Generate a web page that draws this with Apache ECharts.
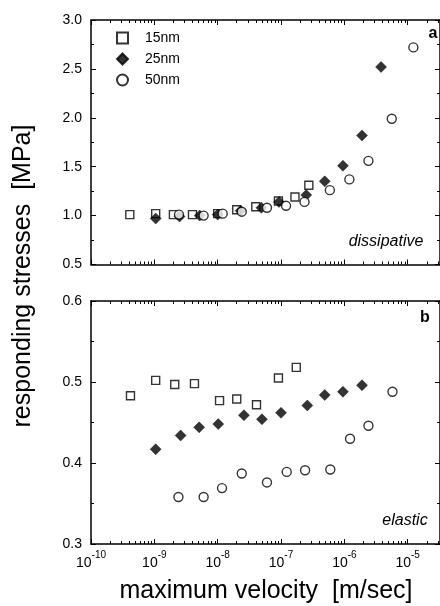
<!DOCTYPE html>
<html><head><meta charset="utf-8">
<script src="https://cdn.jsdelivr.net/npm/echarts@6/dist/echarts.min.js"></script>
<style>html,body{margin:0;padding:0;background:#fff}#c{width:440px;height:606px}</style>
</head><body><div id="c"></div>
<script>
const seriesNames = ['15nm', '25nm', '50nm'];
// panel a (dissipative)
const a15x = [4.1e-10, 1.05e-9, 2.0e-9, 4.0e-9, 1.0e-8, 2.0e-8, 4.0e-8, 9.1e-8, 1.66e-7, 2.75e-7];
const a15y = [1.01, 1.02, 1.01, 1.01, 1.02, 1.06, 1.09, 1.15, 1.19, 1.31];
const a25x = [1.05e-9, 2.5e-9, 5.2e-9, 1.0e-8, 2.3e-8, 4.9e-8, 9.3e-8, 2.5e-7, 4.9e-7, 9.5e-7, 1.9e-6, 3.8e-6];
const a25y = [0.97, 0.99, 1.0, 1.01, 1.05, 1.08, 1.14, 1.21, 1.35, 1.51, 1.82, 2.52];
const a50x = [2.45e-9, 6.0e-9, 1.2e-8, 2.4e-8, 6.0e-8, 1.2e-7, 2.35e-7, 5.9e-7, 1.2e-6, 2.4e-6, 5.6e-6, 1.23e-5];
const a50y = [1.01, 1.0, 1.02, 1.04, 1.08, 1.10, 1.14, 1.26, 1.37, 1.56, 1.99, 2.72];
// panel b (elastic)
const b15x = [4.2e-10, 1.05e-9, 2.1e-9, 4.3e-9, 1.07e-8, 2.0e-8, 4.1e-8, 9.1e-8, 1.74e-7];
const b15y = [0.483, 0.502, 0.497, 0.498, 0.477, 0.479, 0.472, 0.505, 0.518];
const b25x = [1.05e-9, 2.6e-9, 5.1e-9, 1.02e-8, 2.6e-8, 5.0e-8, 1.0e-7, 2.6e-7, 4.9e-7, 9.5e-7, 1.9e-6];
const b25y = [0.417, 0.434, 0.444, 0.448, 0.459, 0.454, 0.462, 0.471, 0.484, 0.488, 0.496];
const b50x = [2.4e-9, 6.0e-9, 1.17e-8, 2.4e-8, 6.0e-8, 1.23e-7, 2.4e-7, 6.0e-7, 1.23e-6, 2.4e-6, 5.75e-6];
const b50y = [0.358, 0.358, 0.369, 0.387, 0.376, 0.389, 0.391, 0.392, 0.430, 0.446, 0.488];
// axis ticks
const xMajorTicks = [1e-10, 1e-9, 1e-8, 1e-7, 1e-6, 1e-5];
const X_MIN = 1e-10;
const X_MAX = Math.pow(10, -4.49);
const xMinorTicks = [];
xMajorTicks.forEach(function (m) {
  for (let k = 2; k <= 9; k++) { const v = k * m; if (v < X_MAX) xMinorTicks.push(v); }
});

const FONT = '"Liberation Sans", Arial, sans-serif';
const zip = (xs, ys) => xs.map((x, i) => [x, ys[i]]);

function xAxisDef(gridIndex, position, ticks, len, showLine, showLabel) {
  return {
    type: 'log', logBase: 10, gridIndex: gridIndex, position: position,
    min: X_MIN, max: X_MAX,
    axisLine: { show: showLine, onZero: false, lineStyle: { color: '#000', width: 1.5 } },
    axisTick: { show: true, inside: true, length: len, customValues: ticks, lineStyle: { color: '#000', width: 1 } },
    axisLabel: {
      show: showLabel, customValues: xMajorTicks, margin: 6, color: '#000',
      formatter: function (v) {
        const e = Math.round(Math.log10(v));
        return '{b|10}{s|' + e + '}';
      },
      rich: {
        b: { fontSize: 14, fontFamily: FONT, color: '#000', lineHeight: 20, verticalAlign: 'bottom' },
        s: { fontSize: 10, fontFamily: FONT, color: '#000', lineHeight: 12, verticalAlign: 'top' }
      }
    },
    splitLine: { show: false }
  };
}
function yAxisDef(gridIndex, position, min, max, interval, showLabel) {
  return {
    type: 'value', gridIndex: gridIndex, position: position,
    min: min, max: max, interval: interval,
    axisLine: { show: true, onZero: false, lineStyle: { color: '#000', width: 1.5 } },
    axisTick: { show: true, inside: true, length: 5, lineStyle: { color: '#000', width: 1 } },
    minorTick: { show: true, splitNumber: 2, length: 3, lineStyle: { color: '#000', width: 1 } },
    axisLabel: { show: showLabel, margin: 9, color: '#000', fontSize: 14, fontFamily: FONT,
      formatter: function (v) { return v.toFixed(1); } },
    splitLine: { show: false }
  };
}

const openStyle = { color: '#fff', borderColor: '#000', borderWidth: 1.4 };
const fillStyle = { color: '#000', borderColor: '#000', borderWidth: 0.5 };
function sc(name, xi, yi, data, symbol, size, style) {
  return { type: 'scatter', name: name, xAxisIndex: xi, yAxisIndex: yi, data: data,
    symbol: symbol, symbolSize: size, itemStyle: style, z: 5, emphasis: { disabled: true } };
}

const chart = echarts.init(document.getElementById('c'), null, { renderer: 'canvas' });
chart.setOption({
  animation: false,
  backgroundColor: '#fff',
  grid: [
    { left: 91, top: 20, width: 350, height: 244.5 },
    { left: 91, top: 301, width: 350, height: 243 }
  ],
  xAxis: [
    xAxisDef(0, 'bottom', xMajorTicks, 5, true, false),
    xAxisDef(0, 'bottom', xMinorTicks, 3, false, false),
    xAxisDef(0, 'top', xMajorTicks, 5, true, false),
    xAxisDef(0, 'top', xMinorTicks, 3, false, false),
    xAxisDef(1, 'bottom', xMajorTicks, 5, true, true),
    xAxisDef(1, 'bottom', xMinorTicks, 3, false, false),
    xAxisDef(1, 'top', xMajorTicks, 5, true, false),
    xAxisDef(1, 'top', xMinorTicks, 3, false, false)
  ],
  yAxis: [
    yAxisDef(0, 'left', 0.5, 3.0, 0.5, true),
    yAxisDef(0, 'right', 0.5, 3.0, 0.5, false),
    yAxisDef(1, 'left', 0.3, 0.6, 0.1, true),
    yAxisDef(1, 'right', 0.3, 0.6, 0.1, false)
  ],
  legend: {
    data: seriesNames, orient: 'vertical', left: 111, top: 26,
    itemWidth: 11, itemHeight: 11, itemGap: 7, selectedMode: false,
    formatter: function (name) { return '{g|}' + name; },
    textStyle: { fontSize: 14, fontFamily: FONT, color: '#000',
      rich: { g: { width: 12 } } }
  },
  series: [
    sc(seriesNames[0], 0, 0, zip(a15x, a15y), 'rect', 8, openStyle),
    sc(seriesNames[1], 0, 0, zip(a25x, a25y), 'diamond', 11, fillStyle),
    sc(seriesNames[2], 0, 0, zip(a50x, a50y), 'circle', 9, openStyle),
    sc(seriesNames[0], 4, 2, zip(b15x, b15y), 'rect', 8, openStyle),
    sc(seriesNames[1], 4, 2, zip(b25x, b25y), 'diamond', 11, fillStyle),
    sc(seriesNames[2], 4, 2, zip(b50x, b50y), 'circle', 9, openStyle)
  ],
  graphic: [
    { type: 'text', x: 23, y: 276, rotation: Math.PI / 2, z: 10,
      style: { text: 'responding stresses  [MPa]', font: '25px ' + FONT, fill: '#000', align: 'center', verticalAlign: 'middle' } },
    { type: 'text', x: 266, y: 591, z: 10,
      style: { text: 'maximum velocity  [m/sec]', font: '25px ' + FONT, fill: '#000', align: 'center', verticalAlign: 'middle' } },
    { type: 'text', x: 433, y: 34, z: 10,
      style: { text: 'a', font: 'bold 16px ' + FONT, fill: '#000', align: 'center', verticalAlign: 'middle' } },
    { type: 'text', x: 386, y: 242, z: 10,
      style: { text: 'dissipative', font: 'italic 16px ' + FONT, fill: '#000', align: 'center', verticalAlign: 'middle' } },
    { type: 'text', x: 425, y: 318, z: 10,
      style: { text: 'b', font: 'bold 16px ' + FONT, fill: '#000', align: 'center', verticalAlign: 'middle' } },
    { type: 'text', x: 405, y: 521, z: 10,
      style: { text: 'elastic', font: 'italic 16px ' + FONT, fill: '#000', align: 'center', verticalAlign: 'middle' } }
  ]
});
</script>
</body></html>
